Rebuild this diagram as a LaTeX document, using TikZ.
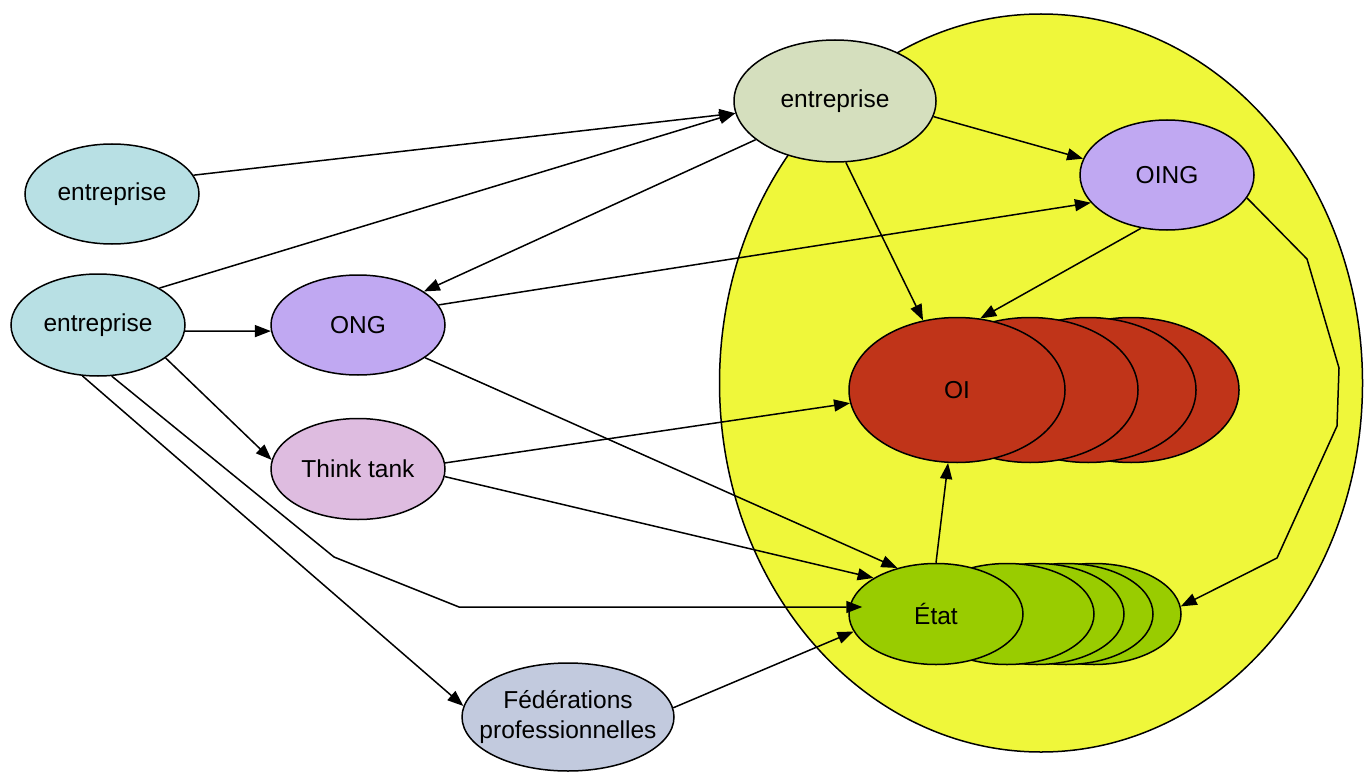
\documentclass[tikz,border=0pt]{standalone}
\usepackage{fontspec}
\setmainfont{Liberation Sans}
\usetikzlibrary{shapes.geometric,arrows.meta}
\definecolor{bigyellow}{HTML}{EFF73A}
\definecolor{entgreen}{HTML}{D5DFBE}
\definecolor{lavender}{HTML}{C0A8F2}
\definecolor{oired}{HTML}{C03419}
\definecolor{etatgreen}{HTML}{99CC00}
\definecolor{entcyan}{HTML}{B8E0E4}
\definecolor{ttpink}{HTML}{DEBCE0}
\definecolor{fedblue}{HTML}{C2CADE}
\begin{document}
\begin{tikzpicture}[x=1pt,y=-1pt,
  el/.style={ellipse,draw=black,line width=1.5pt,inner sep=0pt,
    font=\fontsize{24.5}{30}\selectfont,align=center},
  small/.style={el,minimum width=174pt,minimum height=101pt},
  oistyle/.style={el,fill=oired,minimum width=216pt,minimum height=145pt},
  etatstyle/.style={el,fill=etatgreen,minimum width=174pt,minimum height=101pt},
  arr/.style={line width=1.5pt,-{Triangle[length=16pt,width=12pt]}}]
\useasboundingbox (0,0) rectangle (1364,778);
% big yellow ellipse
\node[el,fill=bigyellow,minimum width=643pt,minimum height=738pt] (world) at (1041,383) {};
% nodes
\node[el,fill=entgreen,minimum width=202pt,minimum height=122pt] (topent) at (835,101) {entreprise};
\node[small,fill=lavender,minimum height=110pt] (oing) at (1167,175) {OING};
\node[oistyle] (oi4) at (1131,390) {};
\node[oistyle] (oi3) at (1088,390) {};
\node[oistyle] (oi2) at (1030,390) {};
\node[oistyle] (oi) at (957,390) {OI};
\node[etatstyle] (etat5) at (1094,614) {};
\node[etatstyle] (etat4) at (1066,614) {};
\node[etatstyle] (etat3) at (1037,614) {};
\node[etatstyle] (etat2) at (1007,614) {};
\node[etatstyle] (etat) at (936,614) {État};
\node[small,fill=entcyan,minimum height=100pt] (ent1) at (112,194) {entreprise};
\node[small,fill=entcyan,minimum height=102pt] (ent2) at (98,325) {entreprise};
\node[small,fill=lavender,minimum height=100pt] (ong) at (358,325) {ONG};
\node[small,fill=ttpink] (tt) at (358,469) {Think tank};
\node[el,fill=fedblue,inner xsep=-18pt,inner ysep=-12pt,minimum width=212pt,minimum height=108pt] (fed) at (568,717) {Fédérations\\professionnelles};
% waypoints
\coordinate (w1) at (1307,259);
\coordinate (w2) at (1339,368);
\coordinate (w3) at (1337,426);
\coordinate (w4) at (1277,558);
\coordinate (v1) at (334,557);
\coordinate (v2) at (459,607);
% connectors
\draw[arr] (ent1.13.6) -- (topent.187);
\draw[arr] (ent2.31.7) -- (topent.187);
\draw[arr] (topent.206) -- (ong.27);
\draw[arr] (ong.14) -- (oing.200.5);
\draw[arr] (topent.-9) -- (oing.169);
\draw[arr] (topent.280) -- (oi.116);
\draw[arr] (oing.244) -- (oi.72);
\draw[arr] (oing.-16) -- (w1) -- (w2) -- (w3) -- (w4) -- (etat5.5);
\draw[arr] (ent2.-4) -- (ong.184);
\draw[arr] (ent2.-26) -- (tt.174);
\draw[arr] (ent2.285) -- (v1) -- (v2) -- ([xshift=14pt,yshift=7pt]etat.west);
\draw[arr] (ent2.253.6) -- (fed.174);
\draw[arr] (ong.-26.6) -- (etat.130.8);
\draw[arr] (tt.4.6) -- (oi.187.8);
\draw[arr] (tt.-5.3) -- (etat.150);
\draw[arr] (etat.90) -- (oi.263);
\draw[arr] (fed.5) -- (etat.192);
\end{tikzpicture}
\end{document}
